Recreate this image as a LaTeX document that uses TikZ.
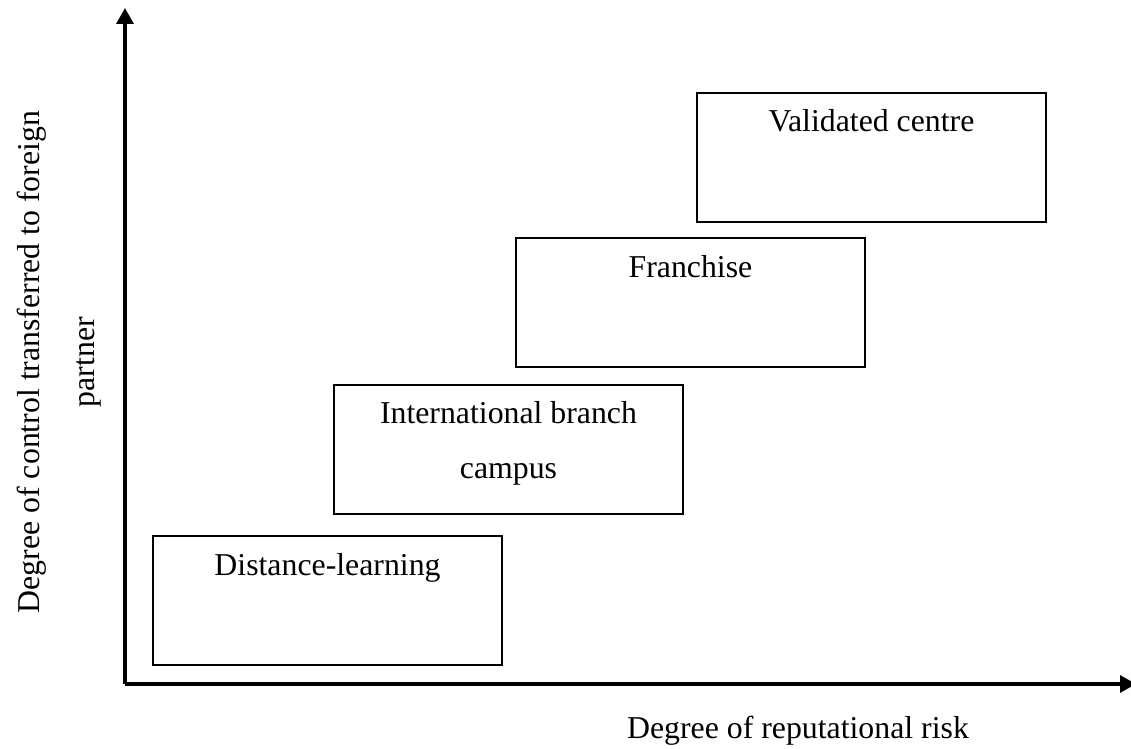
\documentclass[tikz,border=0pt]{standalone}
\usepackage{fontspec}
\setmainfont{Liberation Serif}
\usetikzlibrary{arrows.meta}

\tikzset{
  axis/.style={line width=1.6pt, -{Triangle[length=8pt,width=8.5pt]}},
  blk/.style={draw, line width=1pt, minimum width=174.5pt, minimum height=64.5pt, inner sep=0pt, anchor=north west},
  lbl/.style={anchor=base, inner sep=0pt, align=center},
}

\begin{document}
\begin{tikzpicture}[x=0.5pt, y=-0.5pt, font=\fontsize{15.9}{27.5}\selectfont]
\useasboundingbox (0,0) rectangle (1131,749);
% axes
\coordinate (o) at (125,684);
\coordinate (ytip) at (125,8);
\coordinate (xtip) at (1136,684);
\draw[axis] (o) -- (ytip);
\draw[axis] (o) -- (xtip);
\node[lbl, rotate=90, anchor=center] (ylab) at (59,362) {Degree of control transferred to foreign\\partner};
\node[lbl] (xlab) at (798,738) {Degree of reputational risk};
% boxes
\node[blk] (dl) at (152,535) {};
\node[blk] (ibc) at (333,384) {};
\node[blk] (fr) at (515,237) {};
\node[blk] (vc) at (696,92) {};
\node[lbl] (dlT) at ([yshift=-20pt]dl.north) {Distance-learning};
\node[lbl] (ibcT) at ([yshift=-47pt]ibc.north) {International branch\\campus};
\node[lbl] (frT) at ([yshift=-20.5pt]fr.north) {Franchise};
\node[lbl] (vcT) at ([yshift=-20pt]vc.north) {Validated centre};
\end{tikzpicture}
\end{document}
